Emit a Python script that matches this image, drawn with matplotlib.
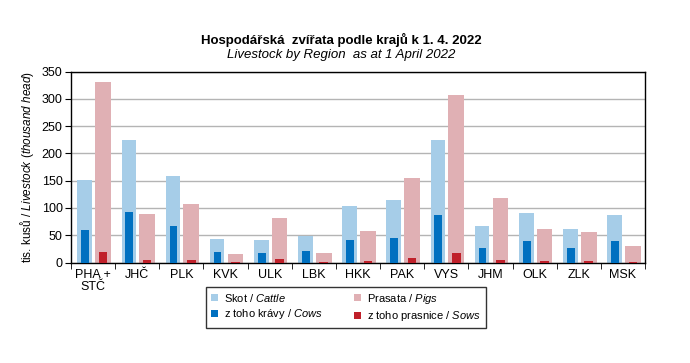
import numpy as np
import matplotlib.pyplot as plt

plt.rcParams['font.family'] = ['Liberation Sans', 'DejaVu Sans']
plt.rcParams['mathtext.fontset'] = 'custom'
plt.rcParams['mathtext.rm'] = 'Liberation Sans'
plt.rcParams['mathtext.it'] = 'Liberation Sans:italic'
plt.rcParams['mathtext.bf'] = 'Liberation Sans:bold'

regions = ["PHA +\nSTČ", "JHČ", "PLK", "KVK", "ULK", "LBK", "HKK",
           "PAK", "VYS", "JHM", "OLK", "ZLK", "MSK"]
cattle = [150.5, 224.6, 158.5, 42.8, 41.0, 49.0, 103.4, 114.4, 224.6, 66.7, 90.6, 61.2, 86.9]
cows = [59.4, 92.4, 66.7, 19.0, 17.0, 20.8, 41.0, 44.7, 86.9, 26.3, 39.2, 26.3, 39.2]
pigs = [331.0, 88.7, 107.0, 15.3, 81.4, 17.0, 57.5, 154.8, 307.0, 118.0, 61.2, 55.7, 30.0]
sows = [19.0, 4.3, 4.3, 0.5, 6.1, 0.4, 2.4, 8.0, 17.0, 4.3, 2.4, 2.4, 0.5]

c_cattle = "#a6cde8"
c_cows = "#0070c0"
c_pigs = "#e0b0b4"
c_sows = "#c0202a"

fig = plt.figure(figsize=(6.9, 3.63), dpi=100)
ax = fig.add_axes([71 / 690, 1 - 262.5 / 363, (645 - 71) / 690, (262.5 - 71.5) / 363])

x = np.arange(len(regions))
b1 = ax.bar(x - 0.19, cattle, width=0.33, color=c_cattle, zorder=2, label="Skot / $\\it{Cattle}$")
b2 = ax.bar(x + 0.225, pigs, width=0.355, color=c_pigs, zorder=2, label="Prasata / $\\it{Pigs}$")
b3 = ax.bar(x - 0.18, cows, width=0.175, color=c_cows, zorder=3, label="z toho krávy / $\\it{Cows}$")
b4 = ax.bar(x + 0.225, sows, width=0.195, color=c_sows, zorder=3, label="z toho prasnice / $\\it{Sows}$")

ax.set_xlim(-0.5, len(regions) - 0.5)
ax.set_ylim(0, 350)
ax.set_yticks(np.arange(0, 351, 50))
ax.yaxis.grid(True, color="#b4b4b4", linewidth=1, zorder=0)
ax.set_xticks(x)
ax.set_xticklabels(regions, fontsize=9, linespacing=1.0)
ax.tick_params(axis="x", length=0, pad=5)
ax.set_xticks(np.arange(-0.5, len(regions), 1), minor=True)
ax.tick_params(axis="x", which="minor", length=4, direction="out")
ax.tick_params(axis="y", length=4, direction="out", labelsize=9, pad=2)
for s in ax.spines.values():
    s.set_linewidth(1)
    s.set_color("black")

ax.set_ylabel("tis. kusů / $\\it{Livestock\\ (thousand\\ head)}$", fontsize=8.5, labelpad=4)

fig.text(0.494, 1 - 40 / 363, "Hospodářská  zvířata podle krajů k 1. 4. 2022",
         ha="center", va="center", fontsize=9.5, fontweight="bold")
fig.text(0.494, 1 - 55 / 363, "Livestock by Region  as at 1 April 2022",
         ha="center", va="center", fontsize=9.5, style="italic")

leg = fig.legend([b1, b3, b2, b4], [b.get_label() for b in (b1, b3, b2, b4)],
                 loc="center", bbox_to_anchor=(346 / 690, 1 - 307.5 / 363), ncol=2,
                 fontsize=8, frameon=True, fancybox=False, edgecolor="black",
                 handlelength=0.6, handleheight=0.6, columnspacing=2.8,
                 labelspacing=0.3, borderpad=0.4, handletextpad=0.6)
leg.get_frame().set_linewidth(1)

fig.savefig("out.png", dpi=100)
